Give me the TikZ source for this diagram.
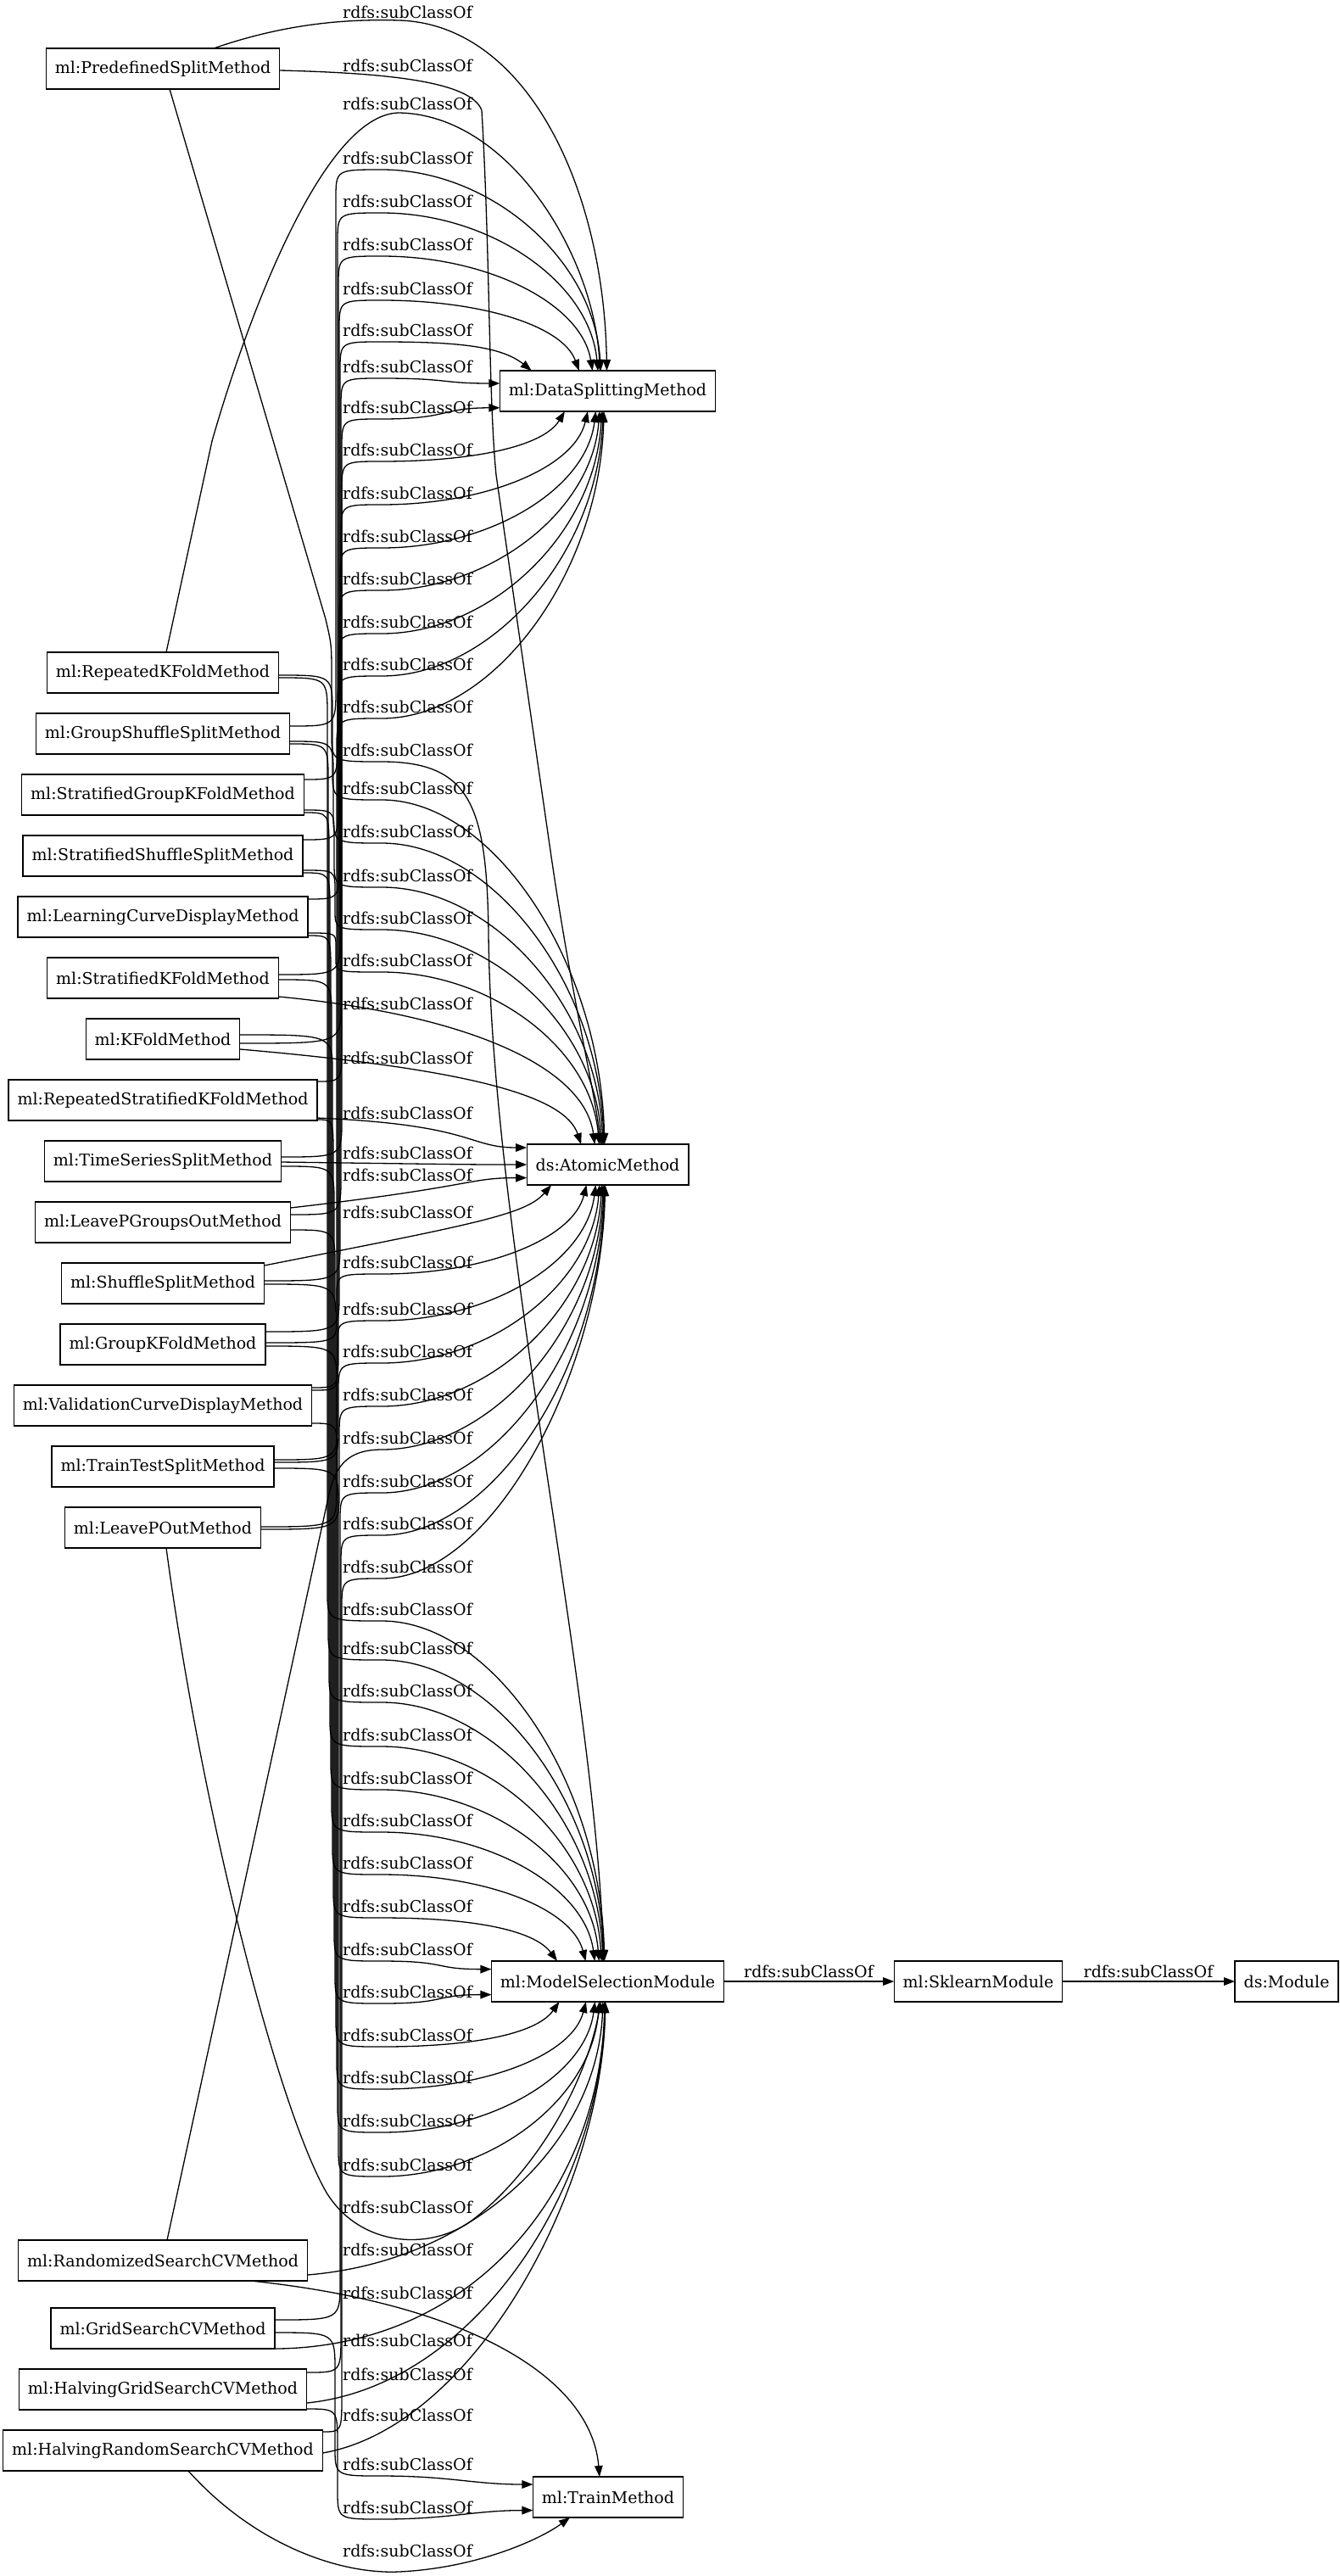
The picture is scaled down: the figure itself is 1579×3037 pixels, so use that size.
\documentclass[tikz,border=0pt]{standalone}
\usepackage{fontspec}
\newfontfamily\gvserif{DejaVu Serif}
\usetikzlibrary{arrows.meta}
\newcommand\gvfont{\gvserif\fontsize{19}{23}\selectfont}
\newdimen\qdx
\newdimen\qdy

\tikzset{
  box/.style={draw, line width=1.3pt, minimum height=48pt, inner xsep=10.5pt,
    inner ysep=0pt, outer sep=0pt, font=\gvfont},
  edge/.style={line width=1.3pt, -{Triangle[length=13pt,width=9.5pt]}},
  lab/.style={font=\gvfont, inner sep=0pt},
}

% End of an edge: entry point on the target box and the control point before it.
% #1 = label y, #2 = target node
\newcommand\targetcalc[2]{%
  \pgfextractx{\qdx}{\pgfpointanchor{#2}{center}}%
  \pgfextracty{\qdy}{\pgfpointanchor{#2}{center}}%
  \pgfmathsetmacro\qTX{\qdx}%
  \pgfmathsetmacro\qTY{-1*(\qdy)}%
  \pgfextractx{\qdx}{\pgfpointanchor{#2}{west}}%
  \pgfmathsetmacro\qHW{\qTX-\qdx}%
  \pgfmathsetmacro\qMY{#1+14}%
  \pgfmathsetmacro\qDT{\qMY-\qTY}%
  \pgfmathsetmacro\qAD{abs(\qDT)}%
  \ifdim\qAD pt<50pt
    \pgfmathsetmacro\qYS{max(-20,min(20,0.6*(\qDT)))}%
    \pgfmathsetmacro\qXS{-1*(\qHW)}%
    \pgfmathsetmacro\qEX{\qTX-\qHW}%
    \pgfmathsetmacro\qEY{\qTY+(\qYS)}%
    \pgfmathsetmacro\qBX{\qEX-70}%
    \pgfmathsetmacro\qBY{\qEY}%
    \pgfmathsetmacro\qAX{530}%
  \else
    \pgfmathsetmacro\qF{min(110,85*(60/\qAD)^1.6)}%
    \pgfmathsetmacro\qXS{-1*(\qF)}%
    \pgfmathsetmacro\qYS{ifthenelse(\qDT>0,24,-24)}%
    \pgfmathsetmacro\qEX{\qTX-\qF}%
    \pgfmathsetmacro\qEY{\qTY+(\qYS)}%
    \pgfmathsetmacro\qBX{\qEX-2100/\qAD}%
    \pgfmathsetmacro\qBY{\qEY+ifthenelse(\qDT>0,1,-1)*min(0.5*\qAD,220)}%
    \pgfmathsetmacro\qAX{450+0.5*(\qEX-450)}%
  \fi
  \pgfmathsetmacro\qNY{-1*(\qYS)}%
}

% Edge running through the vertical bundle at x=#2, then past its label.
% #1 = start point, #2 = bundle x, #3 = label y, #4 = target node
\newcommand\linkvia[4]{%
  \targetcalc{#3}{#4}%
  \path #1 coordinate (qstart);
  \pgfextracty{\qdy}{\pgfpointanchor{qstart}{center}}%
  \pgfmathsetmacro\qAY{-1*(\qdy)}%
  \pgfmathsetmacro\qDD{abs(\qMY-\qAY)}%
  \pgfmathsetmacro\qSG{ifthenelse(\qMY>\qAY,1,-1)}%
  \pgfmathsetmacro\qPA{\qAY+(\qSG)*min(45,\qDD/3)}%
  \pgfmathsetmacro\qPB{\qMY-(\qSG)*min(35,\qDD/3)}%
  \draw[edge] #1 .. controls (#2,\qAY) .. (#2,\qPA) -- (#2,\qPB)
    .. controls (#2,\qMY) .. (450,\qMY)
    .. controls (\qAX,\qMY) and (\qBX,\qBY) .. ([xshift=\qXS pt,yshift=\qNY pt]#4.center);
  \node[lab] at (480.5,#3) {rdfs:subClassOf};
}

% Edge going straight across to its target.
% #1 = start point, #2 = label y, #3 = target node
\newcommand\linkdirect[3]{%
  \targetcalc{#2}{#3}%
  \draw[edge] #1 .. controls (560,\qMY) and (\qBX,\qBY) .. ([xshift=\qXS pt,yshift=\qNY pt]#3.center);
  \node[lab] at (480.5,#2) {rdfs:subClassOf};
}

\begin{document}
\begin{tikzpicture}[x=1pt,y=-1pt]
\useasboundingbox (0,0) rectangle (1579,3037);
\fill[white] (0,0) rectangle (1579,3037);

% ---------- classes ----------
\node[box] (pre)  at (192,81)   {ml:PredefinedSplitMethod};
\node[box] (rkf)  at (192,793)  {ml:RepeatedKFoldMethod};
\node[box] (gss)  at (192,865)  {ml:GroupShuffleSplitMethod};
\node[box] (sgk)  at (192,937)  {ml:StratifiedGroupKFoldMethod};
\node[box] (sss)  at (192,1009) {ml:StratifiedShuffleSplitMethod};
\node[box] (lcd)  at (192,1081) {ml:LearningCurveDisplayMethod};
\node[box] (skf)  at (192,1153) {ml:StratifiedKFoldMethod};
\node[box] (kf)   at (192,1225) {ml:KFoldMethod};
\node[box] (rskf) at (192,1297) {ml:RepeatedStratifiedKFoldMethod};
\node[box] (tss)  at (192,1369) {ml:TimeSeriesSplitMethod};
\node[box] (lpgo) at (192,1441) {ml:LeavePGroupsOutMethod};
\node[box] (ss)   at (192,1513) {ml:ShuffleSplitMethod};
\node[box] (gkf)  at (192,1585) {ml:GroupKFoldMethod};
\node[box] (vcd)  at (192,1657) {ml:ValidationCurveDisplayMethod};
\node[box] (tts)  at (192,1729) {ml:TrainTestSplitMethod};
\node[box] (lpo)  at (192,1801) {ml:LeavePOutMethod};
\node[box] (rs)   at (192,2665) {ml:RandomizedSearchCVMethod};
\node[box] (gs)   at (192,2745) {ml:GridSearchCVMethod};
\node[box] (hgs)  at (192,2817) {ml:HalvingGridSearchCVMethod};
\node[box] (hrs)  at (192,2889) {ml:HalvingRandomSearchCVMethod};

\node[box] (ds)  at (716.5,461)  {ml:DataSplittingMethod};
\node[box] (atm) at (716.5,1373) {ds:AtomicMethod};
\node[box] (msm) at (716.5,2336) {ml:ModelSelectionModule};
\node[box] (tr)  at (717,2944)   {ml:TrainMethod};
\node[box] (sk)  at (1153.5,2336) {ml:SklearnModule};
\node[box, anchor=east] (mod) at (1578,2336) {ds:Module};

% ---------- PredefinedSplitMethod ----------
\draw[edge] ([xshift=60pt]pre.north) .. controls (330,30) and (400,22) .. (470,24)
  .. controls (620,28) and (712,220) .. ([xshift=-1pt]ds.north);
\node[lab] at (480.5,14) {rdfs:subClassOf};
\draw[edge] ([yshift=-2pt]pre.east) .. controls (450,86) and (555,95) .. (568,130)
  .. controls (578,300) and (576,470) .. (585,560) -- (650,1010)
  .. controls (675,1180) and (700,1280) .. ([xshift=-8pt]atm.north);
\node[lab] at (480.5,77) {rdfs:subClassOf};
\draw[edge] ([xshift=8pt]pre.south) -- (384,730) .. controls (391,760) .. (391,800) -- (391,865)
  .. controls (391,898) .. (450,898) .. controls (555,898) and (574,950) .. (576,1100)
  .. controls (579,1450) and (704,2000) .. ([xshift=-5pt]msm.north);
\node[lab] at (480.5,884) {rdfs:subClassOf};

% ---------- RepeatedKFoldMethod ----------
\draw[edge] ([xshift=4pt]rkf.north) -- (250,520) .. controls (290,380) and (380,135) .. (470,133)
  .. controls (600,135) and (700,300) .. ([xshift=-9pt]ds.north);
\node[lab] at (480.5,122) {rdfs:subClassOf};
\linkvia{([yshift=-3pt]rkf.east)}{392}{929}{atm}
\linkvia{([yshift=-6pt]rkf.east)}{386}{1897}{msm}

% ---------- GroupShuffleSplitMethod ----------
\linkvia{([yshift=9pt]gss.east)}{396}{186}{ds}
\linkvia{([yshift=-9pt]gss.east)}{393}{980}{atm}
\linkvia{([yshift=-12pt]gss.east)}{387}{1943}{msm}

% ---------- StratifiedGroupKFoldMethod ----------
\linkvia{([yshift=18pt]sgk.east)}{398}{237}{ds}
\linkvia{([yshift=-18pt]sgk.east)}{394}{1032}{atm}
\linkvia{([yshift=-21pt]sgk.east)}{388}{1993}{msm}

% ---------- StratifiedShuffleSplitMethod ----------
\linkvia{([yshift=19pt]sss.east)}{399}{288}{ds}
\linkvia{([yshift=-17pt]sss.east)}{395}{1082}{atm}
\linkvia{([yshift=-20pt]sss.east)}{389}{2045}{msm}

% ---------- LearningCurveDisplayMethod ----------
\linkvia{([yshift=21pt]lcd.east)}{400}{340}{ds}
\linkvia{([yshift=-19pt]lcd.east)}{396}{1132}{atm}
\linkvia{([yshift=-22pt]lcd.east)}{390}{2096}{msm}

% ---------- StratifiedKFoldMethod ----------
\linkvia{([yshift=4pt]skf.east)}{401}{389}{ds}
\linkvia{([yshift=-2pt]skf.east)}{391}{2146}{msm}
\linkdirect{([yshift=-22pt]skf.east)}{1183}{atm}

% ---------- KFoldMethod ----------
\linkvia{([yshift=-5pt]kf.east)}{402}{432}{ds}
\linkvia{([yshift=5pt]kf.east)}{392}{2196}{msm}
\linkdirect{([yshift=-12pt]kf.east)}{1247}{atm}

% ---------- RepeatedStratifiedKFoldMethod ----------
\linkvia{([yshift=22pt]rskf.east)}{403}{480}{ds}
\linkdirect{([yshift=-21pt]rskf.east)}{1312}{atm}
\linkvia{([yshift=-23pt]rskf.east)}{393}{2247}{msm}

% ---------- TimeSeriesSplitMethod ----------
\linkvia{([yshift=5pt]tss.east)}{403}{530}{ds}
\linkdirect{([yshift=-1pt]tss.east)}{1359}{atm}
\linkvia{([yshift=-6pt]tss.east)}{394}{2298}{msm}

% ---------- LeavePGroupsOutMethod ----------
\linkdirect{([yshift=17pt]lpgo.east)}{1385}{atm}
\linkvia{([yshift=9pt]lpgo.east)}{402}{581}{ds}
\linkvia{([yshift=-9pt]lpgo.east)}{395}{2348}{msm}

% ---------- ShuffleSplitMethod ----------
\linkdirect{([yshift=21pt]ss.east)}{1429}{atm}
\linkvia{([yshift=3pt]ss.east)}{401}{632}{ds}
\linkvia{([yshift=-1pt]ss.east)}{396}{2399}{msm}

% ---------- GroupKFoldMethod ----------
\linkvia{([yshift=15pt]gkf.east)}{400}{682}{ds}
\linkvia{([yshift=2pt]gkf.east)}{397}{1488}{atm}
\linkvia{([yshift=-2pt]gkf.east)}{397}{2449}{msm}

% ---------- ValidationCurveDisplayMethod ----------
\linkvia{([yshift=21pt]vcd.east)}{399}{733}{ds}
\linkvia{([yshift=18pt]vcd.east)}{398}{1543}{atm}
\linkvia{([yshift=-21pt]vcd.east)}{398}{2500}{msm}

% ---------- TrainTestSplitMethod ----------
\linkvia{([yshift=8pt]tts.east)}{398}{783}{ds}
\linkvia{([yshift=5pt]tts.east)}{399}{1593}{atm}
\linkvia{([yshift=-2pt]tts.east)}{399}{2552}{msm}

% ---------- LeavePOutMethod ----------
\linkvia{([yshift=1pt]lpo.east)}{397}{833}{ds}
\linkvia{([yshift=-2pt]lpo.east)}{400}{1644}{atm}
\draw[edge] ([xshift=4pt]lpo.south) .. controls (240,2150) and (330,2490) .. (385,2585)
  .. controls (425,2650) and (510,2655) .. (560,2615)
  .. controls (630,2560) and (690,2460) .. ([xshift=-8pt]msm.south);
\node[lab] at (480.5,2602) {rdfs:subClassOf};

% ---------- RandomizedSearchCVMethod ----------
\targetcalc{1695}{atm}
\draw[edge] ([xshift=5pt]rs.north) -- (385,1775) .. controls (392,1740) and (400,\qMY) .. (450,\qMY)
  .. controls (\qAX,\qMY) and (\qBX,\qBY) .. ([xshift=\qXS pt,yshift=\qNY pt]atm.center);
\node[lab] at (480.5,1695) {rdfs:subClassOf};
\linkdirect{([yshift=-17pt]rs.east)}{2652}{msm}
\linkdirect{([xshift=104pt]rs.south)}{2703}{tr}

% ---------- GridSearchCVMethod ----------
\linkvia{([yshift=10pt]gs.east)}{401}{1746}{atm}
\linkvia{([yshift=-5pt]gs.east)}{395}{2905}{tr}
\linkdirect{([xshift=121pt]gs.south)}{2759}{msm}

% ---------- HalvingGridSearchCVMethod ----------
\linkvia{([yshift=20pt]hgs.east)}{402}{1796}{atm}
\linkdirect{([yshift=-16pt]hgs.east)}{2799}{msm}
\linkvia{([yshift=-23pt]hgs.east)}{398}{2956}{tr}

% ---------- HalvingRandomSearchCVMethod ----------
\linkvia{([yshift=22pt]hrs.east)}{403}{1847}{atm}
\linkdirect{([yshift=-3pt]hrs.east)}{2847}{msm}
\draw[edge] ([xshift=30pt]hrs.south) .. controls (300,3000) and (400,3035) .. (470,3032)
  .. controls (560,3028) and (635,2995) .. ([xshift=-45pt]tr.south);
\node[lab] at (480.5,3007) {rdfs:subClassOf};

% ---------- module chain ----------
\draw[edge] (msm.east) -- (sk.west);
\node[lab] at (953.5,2324) {rdfs:subClassOf};
\draw[edge] (sk.east) -- (mod.west);
\node[lab] at (1354,2324) {rdfs:subClassOf};
\end{tikzpicture}
\end{document}
